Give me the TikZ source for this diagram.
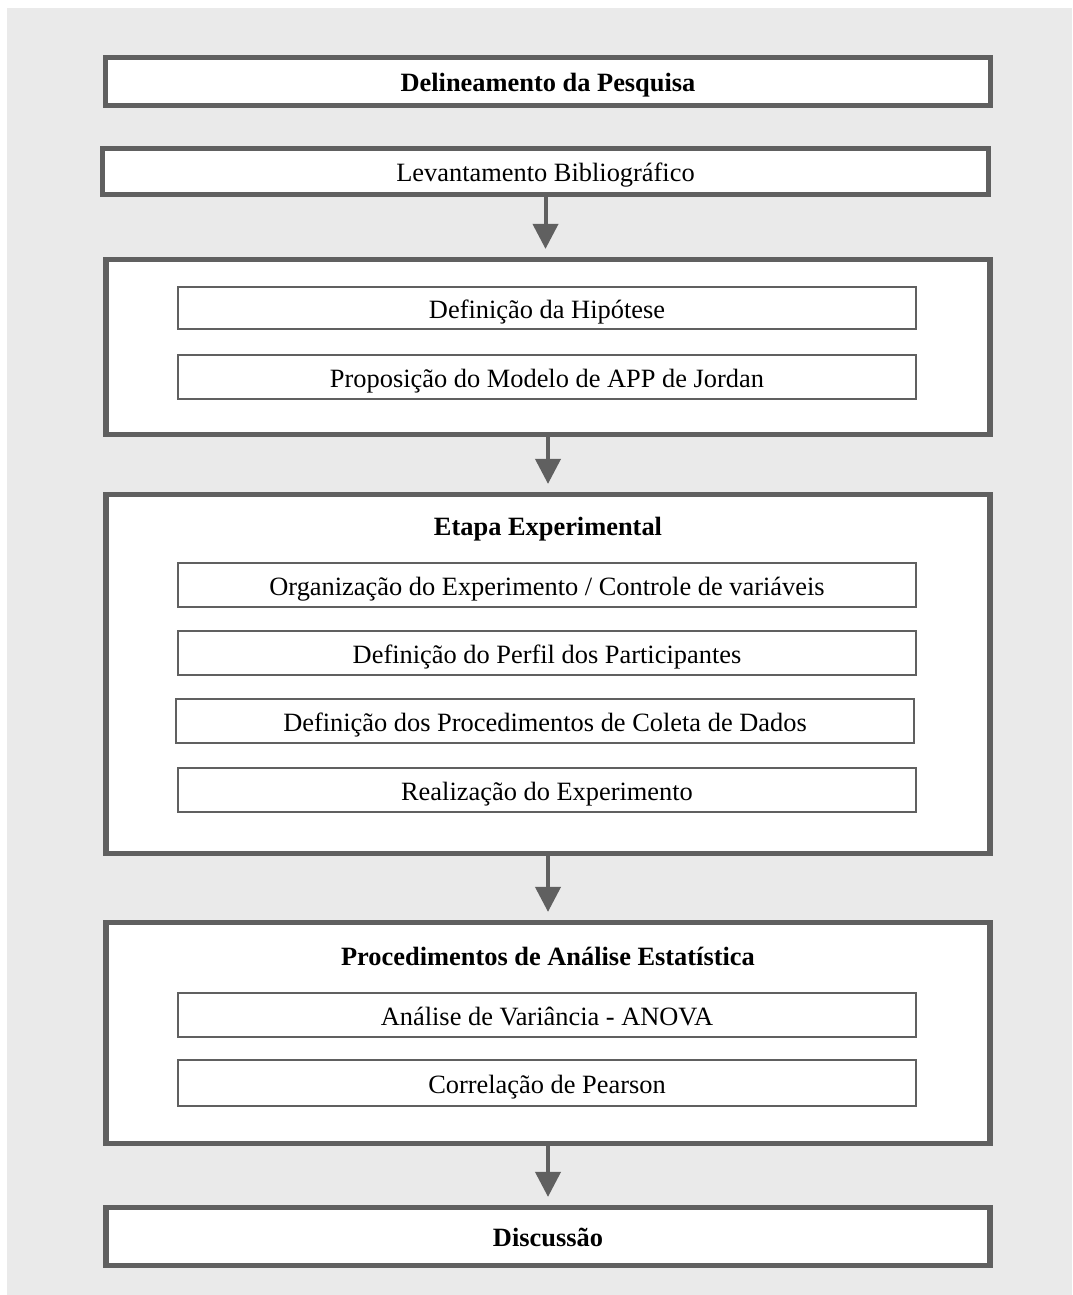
\documentclass[tikz,border=0pt]{standalone}
\usepackage{fontspec}
\setmainfont{Liberation Serif}
\usepackage{tikz}
\usetikzlibrary{arrows.meta}
\definecolor{fundo}{HTML}{EAEAEA}
\definecolor{borda}{HTML}{606060}

\begin{document}
\begin{tikzpicture}[x=0.5pt,y=-0.5pt,
    font=\fontsize{13.2}{15}\selectfont,
    every node/.style={text height=10pt,text depth=0pt},
    etapa/.style={draw=borda,fill=white,line width=2.6pt,inner sep=0pt},
    item/.style={draw=borda,fill=white,line width=1.3pt,inner sep=0pt,
      minimum width=369pt},
    seta/.style={draw=borda,line width=2pt,shorten >=4pt,
      -{Triangle[length=12.5pt,width=12.5pt]}}]
    \useasboundingbox (0,0) rectangle (1072,1295);
    \fill[fundo] (7,8) rectangle (1072,1295);
    % blocos externos
    \node[etapa,minimum width=442.5pt,minimum height=24pt] (del) at (548,81.5)
      {\bfseries Delineamento da Pesquisa};
    \node[etapa,minimum width=443pt,minimum height=23pt] (lev) at (545.5,171.5)
      {Levantamento Bibliográfico};
    \node[etapa,minimum width=442pt,minimum height=87.5pt] (hip) at (548,347) {};
    \node[etapa,minimum width=442pt,minimum height=179.5pt] (exp) at (548,674) {};
    \node[etapa,minimum width=442pt,minimum height=110.5pt] (est) at (548,1033) {};
    \node[etapa,minimum width=442pt,minimum height=29pt] (dis) at (548,1236.5)
      {\bfseries Discussão};
    % titulos
    \node (texp) at (548,525) {\bfseries Etapa Experimental};
    \node (test) at (548,955) {\bfseries Procedimentos de Análise Estatística};
    % itens internos
    \node[item,minimum height=21pt] (h1) at (547,308) {Definição da Hipótese};
    \node[item,minimum height=22pt] (h2) at (547,377)
      {Proposição do Modelo de APP de Jordan};
    \node[item,minimum height=22pt] (e1) at (547,585)
      {Organização do Experimento / Controle de variáveis};
    \node[item,minimum height=22pt] (e2) at (547,653)
      {Definição do Perfil dos Participantes};
    \node[item,minimum height=22pt] (e3) at (545,721)
      {Definição dos Procedimentos de Coleta de Dados};
    \node[item,minimum height=22pt] (e4) at (547,790)
      {Realização do Experimento};
    \node[item,minimum height=22pt] (s1) at (547,1015)
      {Análise de Variância - ANOVA};
    \node[item,minimum height=23pt] (s2) at (547,1083)
      {Correlação de Pearson};
    % setas
    \foreach \a/\b in {lev/hip,hip/exp,exp/est,est/dis}
      \draw[seta] (\a.south) -- (\a.south |- \b.north);
\end{tikzpicture}
\end{document}
